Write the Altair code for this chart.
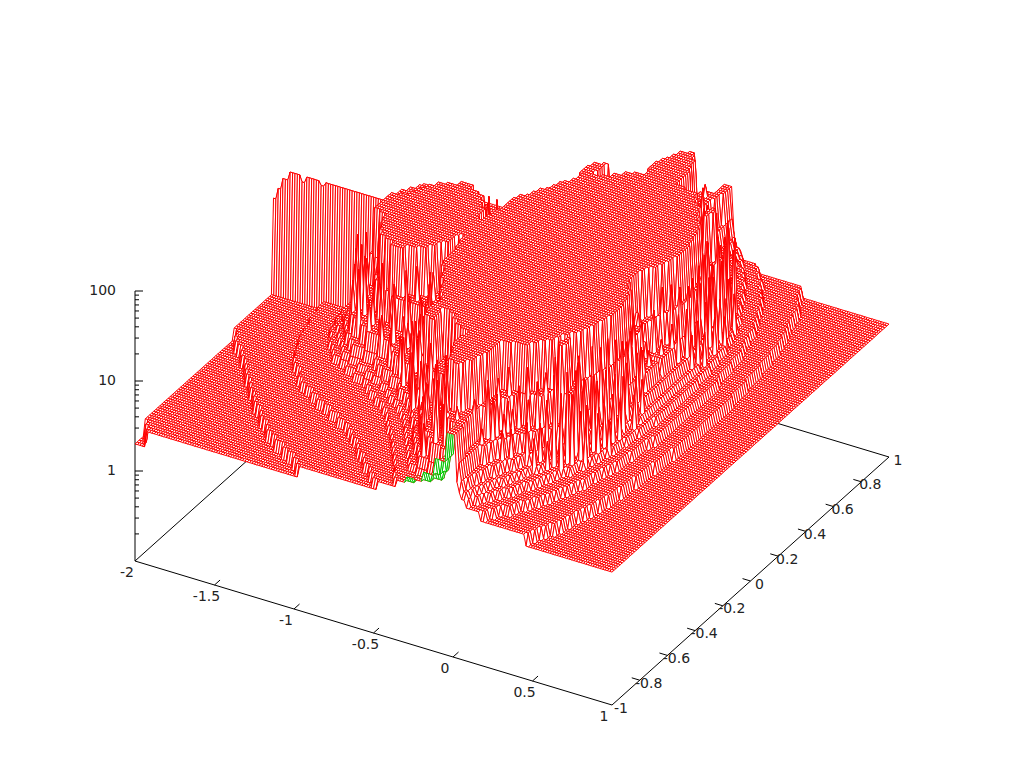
import altair as alt
import numpy as np
import pandas as pd

alt.data_transformers.disable_max_rows()

# Step profiles: for each |im| row, (re where the level starts, level)
ROWS = {
 1.000: [(-2,2),(-1.93,3),(-.97,4),(-.48,5),(-.36,6),(-.30,7),(-.20,9),(-.12,14),(-.05,30),(.01,14),(.02,9),(.03,7),(.05,6),(.07,5),(.17,4),(.45,3)],
 0.975: [(-2,2),(-1.95,3),(-1.0,4),(-.52,5),(-.39,6),(-.25,7),(-.15,9),(-.09,14),(-.05,30),(.01,14),(.025,9),(.045,7),(.07,6),(.10,5),(.20,4),(.465,3)],
 0.950: [(-2,2),(-1.98,3),(-1.05,4),(-.57,5),(-.42,6),(-.22,7),(-.11,9),(-.07,14),(-.05,30),(.01,14),(.03,9),(.06,7),(.09,6),(.12,5),(.22,4),(.48,3)],
 0.925: [(-2,3),(-1.10,4),(-.60,5),(-.43,6),(-.30,7),(-.22,9),(-.15,14),(-.09,30),(.005,14),(.03,9),(.065,7),(.105,6),(.145,5),(.25,4),(.50,3)],
 0.900: [(-2,3),(-1.16,4),(-.64,5),(-.44,6),(-.36,7),(-.30,9),(-.22,14),(-.12,30),(.0,14),(.03,9),(.07,7),(.12,6),(.17,5),(.28,4),(.52,3)],
 0.875: [(-2,3),(-1.22,4),(-.67,5),(-.47,6),(-.39,7),(-.33,9),(-.27,14),(-.15,30),(-.01,14),(.035,9),(.085,7),(.14,6),(.195,5),(.305,4),(.535,3)],
 0.850: [(-2,3),(-1.27,4),(-.71,5),(-.50,6),(-.41,7),(-.36,9),(-.32,14),(-.18,30),(-.14,100),(-.09,30),(-.02,14),(.04,9),(.10,7),(.16,6),(.22,5),(.33,4),(.55,3)],
 0.825: [(-2,3),(-1.31,4),(-.745,5),(-.525,6),(-.435,7),(-.39,9),(-.35,14),(-.21,30),(-.18,100),(-.07,30),(-.015,14),(.06,9),(.12,7),(.18,6),(.24,5),(.355,4),(.56,3)],
 0.800: [(-2,3),(-1.35,4),(-.78,5),(-.55,6),(-.46,7),(-.42,9),(-.38,14),(-.24,30),(-.20,100),(-.05,30),(-.01,14),(.08,9),(.14,7),(.20,6),(.26,5),(.38,4),(.57,3)],
 0.775: [(-2,3),(-1.385,4),(-.815,5),(-.575,6),(-.485,7),(-.44,9),(-.40,14),(-.245,30),(-.21,100),(-.04,30),(.01,14),(.10,9),(.16,7),(.215,6),(.28,5),(.395,4),(.58,3)],
 0.750: [(-2,3),(-1.42,4),(-.85,5),(-.60,6),(-.51,7),(-.46,9),(-.42,14),(-.25,30),(-.22,100),(-.03,30),(.03,14),(.12,9),(.18,7),(.23,6),(.30,5),(.41,4),(.59,3)],
 0.725: [(-2,3),(-1.455,4),(-.895,5),(-.63,6),(-.535,7),(-.48,9),(-.44,14),(-.255,30),(-.23,100),(-.02,30),(.04,14),(.145,9),(.20,7),(.25,6),(.315,5),(.425,4),(.60,3)],
 0.700: [(-2,3),(-1.49,4),(-.94,5),(-.66,6),(-.56,7),(-.50,9),(-.46,14),(-.26,30),(-.24,100),(-.01,30),(.05,14),(.17,9),(.22,7),(.27,6),(.33,5),(.44,4),(.61,3)],
 0.675: [(-2,3),(-1.52,4),(-1.0,5),(-.685,6),(-.59,7),(-.53,9),(-.485,14),(-.30,30),(-.23,100),(-.015,30),(.075,14),(.20,9),(.24,7),(.285,6),(.345,5),(.455,4),(.62,3)],
 0.650: [(-2,3),(-1.55,4),(-1.08,5),(-.71,6),(-.62,7),(-.56,9),(-.51,14),(-.46,30),(-.22,100),(-.02,30),(.10,14),(.23,9),(.26,7),(.30,6),(.36,5),(.47,4),(.63,3)],
 0.625: [(-2,3),(-1.585,4),(-1.14,5),(-.735,6),(-.65,7),(-.59,9),(-.535,14),(-.50,30),(-.48,100),(-.43,30),(-.28,100),(.05,30),(.17,14),(.25,9),(.28,7),(.32,6),(.38,5),(.48,4),(.635,3)],
 0.600: [(-2,3),(-1.62,4),(-1.20,5),(-.76,6),(-.68,7),(-.62,9),(-.56,14),(-.52,100),(-.44,30),(-.33,100),(.13,30),(.22,14),(.28,9),(.30,7),(.34,6),(.40,5),(.49,4),(.64,3)],
 0.575: [(-2,3),(-1.65,4),(-1.26,5),(-.80,6),(-.72,7),(-.66,9),(-.60,14),(-.56,30),(-.53,100),(-.45,30),(-.38,100),(.17,30),(.25,14),(.32,9),(.33,7),(.36,6),(.41,5),(.50,4),(.645,3)],
 0.550: [(-2,3),(-1.68,4),(-1.32,5),(-.85,6),(-.76,7),(-.70,9),(-.63,14),(-.58,30),(-.54,100),(-.46,30),(-.42,100),(.20,30),(.27,100),(.31,30),(.345,14),(.355,9),(.365,7),(.38,6),(.43,5),(.51,4),(.65,3)],
 0.525: [(-2,3),(-1.71,4),(-1.36,5),(-.90,6),(-.80,7),(-.74,9),(-.665,14),(-.57,30),(-.53,100),(.23,30),(.26,100),(.32,30),(.34,14),(.35,9),(.365,7),(.39,6),(.44,5),(.52,4),(.655,3)],
 0.500: [(-2,3),(-1.74,4),(-1.40,5),(-.95,6),(-.85,7),(-.78,9),(-.70,14),(-.56,30),(-.52,100),(.25,30),(.27,100),(.31,30),(.34,14),(.35,9),(.37,7),(.40,6),(.45,5),(.53,4),(.66,3)],
 0.475: [(-2,3),(-1.77,4),(-1.43,5),(-1.0,6),(-.915,7),(-.85,9),(-.775,14),(-.59,30),(-.545,100),(.275,30),(.33,14),(.35,9),(.38,7),(.415,6),(.46,5),(.54,4),(.665,3)],
 0.450: [(-2,3),(-1.80,4),(-1.46,5),(-1.05,6),(-.98,7),(-.92,9),(-.85,14),(-.62,30),(-.57,100),(.295,30),(.325,14),(.35,9),(.39,7),(.43,6),(.47,5),(.55,4),(.67,3)],
 0.425: [(-2,3),(-1.83,4),(-1.49,5),(-1.12,6),(-1.05,7),(-.97,9),(-.89,14),(-.635,30),(-.585,100),(.315,30),(.345,14),(.37,9),(.405,7),(.44,6),(.48,5),(.555,4),(.675,3)],
 0.400: [(-2,3),(-1.86,4),(-1.52,5),(-1.20,6),(-1.12,7),(-1.02,9),(-.93,14),(-.65,30),(-.60,100),(.33,30),(.36,14),(.39,9),(.42,7),(.45,6),(.49,5),(.56,4),(.68,3)],
 0.375: [(-2,3),(-1.895,4),(-1.54,5),(-1.26,6),(-1.19,7),(-1.11,9),(-1.01,14),(-.67,30),(-.62,100),(.34,30),(.37,14),(.395,9),(.425,7),(.455,6),(.495,5),(.565,4),(.68,3)],
 0.350: [(-2,3),(-1.93,4),(-1.56,5),(-1.32,6),(-1.26,7),(-1.20,9),(-1.10,14),(-.69,30),(-.64,100),(.35,30),(.38,14),(.40,9),(.43,7),(.46,6),(.50,5),(.57,4),(.685,3)],
 0.325: [(-2,3),(-1.955,4),(-1.575,5),(-1.35,6),(-1.29,7),(-1.24,9),(-1.17,14),(-.705,30),(-.66,100),(.36,30),(.385,14),(.405,9),(.435,7),(.465,6),(.51,5),(.575,4),(.69,3)],
 0.300: [(-2,3),(-1.98,4),(-1.59,5),(-1.38,6),(-1.32,7),(-1.28,9),(-1.24,14),(-.72,30),(-.68,100),(.37,30),(.39,14),(.41,9),(.44,7),(.47,6),(.52,5),(.58,4),(.69,3)],
 0.275: [(-2,4),(-1.60,5),(-1.405,6),(-1.345,7),(-1.305,9),(-1.27,14),(-1.02,30),(-.70,100),(.375,30),(.395,14),(.415,9),(.445,7),(.475,6),(.52,5),(.58,4),(.69,3)],
 0.250: [(-2,4),(-1.61,5),(-1.43,6),(-1.37,7),(-1.33,9),(-1.30,14),(-1.08,30),(-1.05,100),(-.95,30),(-.71,100),(.375,30),(.40,14),(.42,9),(.45,7),(.48,6),(.525,5),(.585,4),(.69,3)],
 0.225: [(-2,4),(-1.62,5),(-1.445,6),(-1.395,7),(-1.355,9),(-1.315,14),(-1.14,30),(-1.10,100),(-.90,30),(-.715,100),(.375,30),(.40,14),(.42,9),(.455,7),(.485,6),(.53,5),(.595,4),(.695,3)],
 0.200: [(-2,4),(-1.63,5),(-1.46,6),(-1.42,7),(-1.38,9),(-1.33,14),(-1.18,30),(-1.15,100),(-.85,30),(-.72,100),(.375,30),(.40,14),(.42,9),(.46,7),(.49,6),(.53,5),(.60,4),(.70,3)],
 0.175: [(-2,4),(-1.64,5),(-1.47,6),(-1.43,7),(-1.39,9),(-1.345,14),(-1.21,30),(-1.175,100),(-.825,30),(-.725,100),(.37,30),(.395,14),(.42,9),(.46,7),(.495,6),(.53,5),(.60,4),(.70,3)],
 0.150: [(-2,4),(-1.65,5),(-1.48,6),(-1.44,7),(-1.40,9),(-1.36,14),(-1.23,30),(-1.20,100),(-.80,30),(-.73,100),(.36,30),(.39,14),(.42,9),(.46,7),(.50,6),(.535,5),(.60,4),(.70,3)],
 0.125: [(-2,4),(-1.655,5),(-1.49,6),(-1.445,7),(-1.41,9),(-1.37,14),(-1.245,30),(-1.215,100),(-.785,30),(-.735,100),(.345,30),(.38,14),(.425,9),(.465,7),(.50,6),(.54,5),(.60,4),(.70,3)],
 0.100: [(-2,4),(-1.66,5),(-1.50,6),(-1.45,7),(-1.42,9),(-1.38,14),(-1.26,30),(-1.23,100),(-.77,30),(-.74,100),(.33,30),(.37,14),(.43,9),(.47,7),(.50,6),(.54,5),(.60,4),(.70,3)],
 0.075: [(-2,4),(-1.665,5),(-1.505,6),(-1.455,7),(-1.425,9),(-1.385,14),(-1.30,30),(-1.27,100),(-.76,30),(-.745,100),(.31,30),(.355,14),(.43,9),(.47,7),(.50,6),(.54,5),(.60,4),(.70,3)],
 0.050: [(-2,4),(-1.67,5),(-1.51,6),(-1.46,7),(-1.43,9),(-1.39,14),(-1.34,30),(-1.31,100),(.29,30),(.34,14),(.43,9),(.47,7),(.50,6),(.54,5),(.60,4),(.70,3)],
 0.025: [(-2,4),(-1.675,5),(-1.515,6),(-1.465,7),(-1.43,9),(-1.395,14),(-1.35,30),(-1.32,100),(.275,30),(.33,14),(.43,9),(.47,7),(.50,6),(.54,5),(.60,4),(.70,3)],
 0.000: [(-2,4),(-1.68,5),(-1.52,6),(-1.47,7),(-1.43,9),(-1.40,14),(-1.36,30),(-1.32,100),(.26,30),(.32,14),(.43,9),(.47,7),(.50,6),(.54,5),(.60,4),(.70,3)],
}
# the row exactly on the real axis
AXIS_ROW = [(-2,45),(-1.97,60),(-1.94,80),(-1.90,100),(-1.83,85),(-1.80,100),(-1.70,90),(-1.68,100),(.27,40),(.30,20),(.34,12),(.38,10),(.43,9),(.47,7),(.50,6),(.54,5),(.60,4),(.70,3)]
# single tall samples standing out of the walls around the plateau: |im| -> (re, level)
SPIKES = {
 .90: [(-.28,20),(-.2,40),(-.14,60),(-.06,40)],
 .86: [(-.30,35),(-.22,60),(-.16,80),(-.05,30),(.02,14)],
 .82: [(-.34,30),(-.28,50),(-.22,60),(-.02,40),(.03,20)],
 .78: [(-.36,35),(-.30,60),(-.26,30),(.02,60),(.06,40),(.11,18)],
 .74: [(-.38,30),(-.32,60),(-.28,40),(.06,40),(.1,25),(.15,18)],
 .70: [(-.42,40),(-.36,25),(-.30,60),(.02,50),(.08,30),(.12,25),(.2,20),(.25,14)],
 .66: [(-.50,35),(-.44,60),(.05,60),(.12,40),(.18,30),(.25,18),(.30,12)],
 .62: [(-.58,30),(-.46,60),(.14,60),(.2,45),(.26,30),(.31,60),(.36,40)],
 .58: [(-.62,30),(-.57,55),(.22,50),(.28,80),(.35,60),(.38,35)],
 .54: [(-.67,40),(-.61,25),(.30,30),(.37,55),(.40,20),(.43,14)],
 .50: [(-.74,30),(-.66,50),(-.60,30),(.36,60),(.39,30),(.42,22)],
 .46: [(-.80,25),(-.72,40),(-.66,70),(.33,60),(.36,35),(.41,40),(.45,16)],
 .42: [(-.90,20),(-.82,35),(-.74,25),(-.68,60),(.37,70),(.40,30),(.44,18),(.48,12)],
 .38: [(-1.0,25),(-.92,50),(-.83,25),(-.76,35),(-.70,80),(.39,60),(.42,35),(.46,20)],
 .34: [(-1.1,30),(-1.02,45),(-.95,30),(-.85,45),(-.75,30),(.40,70),(.44,30),(.47,15)],
 .30: [(-1.2,50),(-1.12,30),(-1.05,70),(-.98,45),(-.9,70),(-.82,40),(-.76,80),(.42,60),(.46,25)],
 .26: [(-1.28,30),(-1.2,60),(-1.12,40),(-.88,70),(-.8,40),(.41,50),(.45,30),(.49,14)],
 .22: [(-1.30,40),(-1.25,70),(-.8,60),(.42,45),(.47,20)],
 .18: [(-1.33,50),(-1.27,30),(.40,50),(.44,30),(.48,16)],
 .14: [(-1.35,60),(-1.3,35),(.38,60),(.43,30)],
 .10: [(-1.36,30),(-1.32,60),(.36,60),(.41,25)],
 .05: [(-1.38,25),(.35,40),(.40,20)],
}

X_TICKS = [-2, -1.5, -1, -0.5, 0, 0.5, 1]
X_LABELS = ["-2", "-1.5", "-1", "-0.5", "0", "0.5", "1"]
Y_TICKS = [-1, -0.8, -0.6, -0.4, -0.2, 0, 0.2, 0.4, 0.6, 0.8, 1]
Y_LABELS = ["-1", "-0.8", "-0.6", "-0.4", "-0.2", "0", "0.2", "0.4", "0.6", "0.8", "1"]
Z_MAJOR = [1, 10, 100]
Z_LABELS = ["1", "10", "100"]
Z_MINOR = [.2,.3,.4,.5,.6,.7,.8,.9,2,3,4,5,6,7,8,9,20,30,40,50,60,70,80,90]

NX, NY = 200, 134


def project(x, y, z):
    """gnuplot-style view: plot coordinates to picture pixels."""
    u, v = (x + 2) / 3, (y + 1) / 2
    sx = 135 + 477 * u + 277 * v
    sy = 561 + 144 * u - 248 * v - 90 * (np.log10(z) + 1)
    return sx, sy


def level(profile, x):
    val = profile[0][1]
    for start, z in profile:
        if x >= start:
            val = z
    return val


keys = sorted(ROWS)
xs = np.linspace(-2, 1, NX + 1)
ys = np.linspace(1, -1, NY + 1)
Z = np.zeros((NY + 1, NX + 1))
for j, y in enumerate(ys):
    if abs(y) < 1e-9:
        prof = AXIS_ROW
    else:
        prof = ROWS[min(keys, key=lambda k: abs(k - abs(y)))]
    for i, x in enumerate(xs):
        Z[j, i] = level(prof, x)
for yv, items in SPIKES.items():
    for xv, zv in items:
        i = int(np.argmin(np.abs(xs - xv)))
        for sign in (1, -1):
            j = int(np.argmin(np.abs(ys - sign * yv)))
            Z[j, i] = max(Z[j, i], zv)

XX, YY = np.meshgrid(xs, ys)
SX, SY = project(XX, YY, Z)

q, v, px, py, c = [], [], [], [], []
qid = 0
for j in range(NY):
    for i in range(NX):
        corners = [(j, i), (j, i + 1), (j + 1, i + 1), (j + 1, i)]
        pts = [(SX[a], SY[a]) for a in corners]
        area = 0.0
        for k in range(4):
            x0, y0 = pts[k]
            x1, y1 = pts[(k + 1) % 4]
            area += x0 * y1 - x1 * y0
        under = area < 0 and ys[j] < -0.9 and -0.4 < xs[i] < 0.1
        side = "under" if under else "top"
        for k, (a, b) in enumerate(pts):
            q.append(qid)
            v.append(k)
            px.append(round(float(a), 1))
            py.append(round(float(b), 1))
            c.append(side)
        qid += 1
surface = pd.DataFrame({"q": q, "v": v, "px": px, "py": py, "c": c})

# axis segments
seg = []
def add(p0, p1):
    seg.append({"a": float(p0[0]), "b": float(p0[1]), "a2": float(p1[0]), "b2": float(p1[1])})
Z0 = 0.1
add(project(-2, -1, Z0), project(1, -1, Z0))
add(project(1, -1, Z0), project(1, 1, Z0))
add(project(1, 1, Z0), project(-2, 1, Z0))
add(project(-2, 1, Z0), project(-2, -1, Z0))
add(project(-2, -1, Z0), project(-2, -1, 100))
for t in X_TICKS[1:-1]:
    add(project(t, -1, Z0), project(t, -0.96, Z0))
for t in Y_TICKS[1:-1]:
    add(project(1, t, Z0), project(0.95, t, Z0))
for t in Z_MAJOR:
    a = project(-2, -1, t)
    seg.append({"a": float(a[0]), "b": float(a[1]), "a2": float(a[0]) + 8, "b2": float(a[1])})
for t in Z_MINOR:
    a = project(-2, -1, t)
    seg.append({"a": float(a[0]), "b": float(a[1]), "a2": float(a[0]) + 4, "b2": float(a[1])})
axes_df = pd.DataFrame(seg)

lab = []
for t, s in zip(X_TICKS, X_LABELS):
    a = project(t, -1, Z0)
    lab.append({"a": float(a[0]) - 8, "b": float(a[1]) + 12, "s": s})
for t, s in zip(Y_TICKS, Y_LABELS):
    a = project(1, t, Z0)
    lab.append({"a": float(a[0]) + 9, "b": float(a[1]) + 3.5, "s": s})
labels_df = pd.DataFrame(lab)
zlab = pd.DataFrame([{"a": float(project(-2, -1, t)[0]) - 19, "b": float(project(-2, -1, t)[1]), "s": s}
                     for t, s in zip(Z_MAJOR, Z_LABELS)])

sx_scale = alt.Scale(domain=[8, 1016], nice=False, zero=False)
sy_scale = alt.Scale(domain=[760, 8], nice=False, zero=False)
X = alt.X("px:Q", scale=sx_scale, axis=None)
Y = alt.Y("py:Q", scale=sy_scale, axis=None)

axes_layer = alt.Chart(axes_df).mark_rule(color="black", strokeWidth=1).encode(
    x=alt.X("a:Q", scale=sx_scale, axis=None), x2="a2:Q",
    y=alt.Y("b:Q", scale=sy_scale, axis=None), y2="b2:Q")

surface_layer = alt.Chart(surface).mark_line(
    interpolate="linear-closed", fill="white", strokeWidth=1.0, clip=False
).encode(
    x=X, y=Y, detail="q:Q", order="v:Q",
    stroke=alt.Stroke("c:N", scale=alt.Scale(domain=["top", "under"], range=["#ff0000", "#00c800"]), legend=None),
)

font = dict(font="DejaVu Sans", fontSize=14, color="#222222")
tick_text = alt.Chart(labels_df).mark_text(align="center", baseline="middle", **font).encode(
    x=alt.X("a:Q", scale=sx_scale, axis=None), y=alt.Y("b:Q", scale=sy_scale, axis=None), text="s:N")
z_text = alt.Chart(zlab).mark_text(align="right", baseline="middle", **font).encode(
    x=alt.X("a:Q", scale=sx_scale, axis=None), y=alt.Y("b:Q", scale=sy_scale, axis=None), text="s:N")

chart = alt.layer(axes_layer, surface_layer, tick_text, z_text).properties(
    width=1008, height=752, padding=0, autosize=alt.AutoSizeParams(type="none")
).configure_view(stroke=None)

chart.save("out.html", embed_options={"renderer": "svg", "actions": False})
